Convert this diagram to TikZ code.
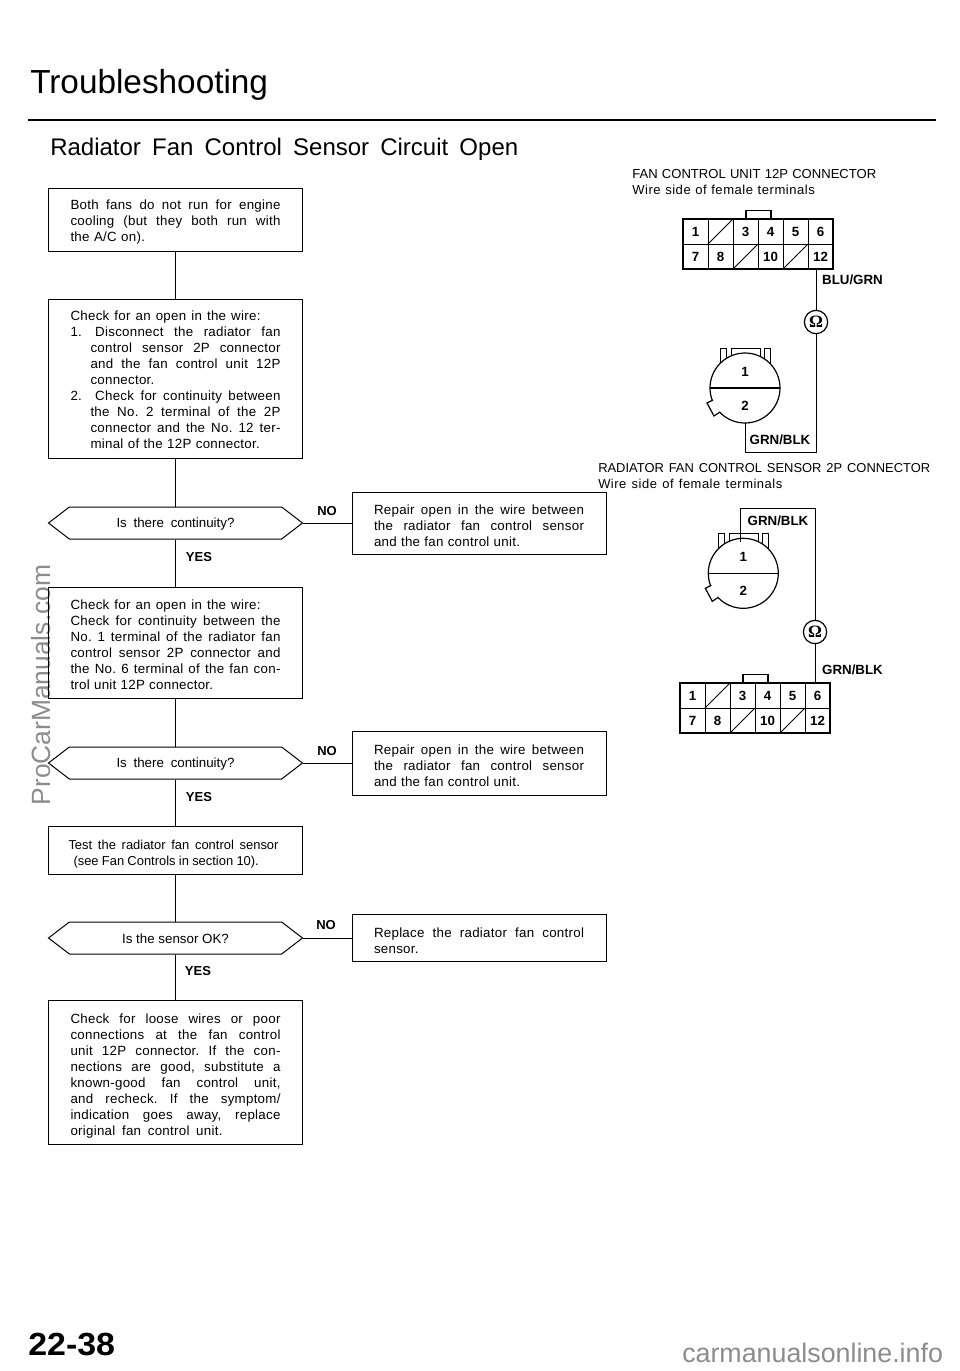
\documentclass[tikz,border=0pt]{standalone}
\usepackage{fontspec}
\setmainfont{Liberation Sans}
\newfontfamily\ohmfont{Liberation Serif}
\newfontfamily\trackedfont[LetterSpace=2]{Liberation Sans}
\newfontfamily\widefont[LetterSpace=4]{Liberation Sans}
\usetikzlibrary{shapes.symbols}
\definecolor{markgray}{gray}{0.55}
\newcommand{\fitline}[2][157.5pt]{\makebox[#1][s]{\spaceskip=0pt\xspaceskip=0pt\frenchspacing #2}}
\newcommand{\indentline}[2][142.5pt]{\hspace*{15pt}\fitline[#1]{#2}}
\tikzset{
  stepbox/.style={draw,line width=0.75pt,inner xsep=16.5pt,inner ysep=0pt,text width=157.5pt,align=left,
    text height=11pt,font=\trackedfont\fontsize{10}{12}\selectfont},
  decisionbox/.style={draw,line width=0.75pt,signal,signal to=west and east,signal pointer angle=75,
    minimum width=190.5pt,minimum height=24pt,inner sep=0pt,text height=8.5pt,font=\fontsize{10}{12}\selectfont},
  answer/.style={font=\fontsize{9.75}{12}\selectfont\bfseries,inner sep=0pt},
  heading/.style={anchor=base west,inner sep=0pt},
  caption/.style={anchor=west,inner sep=0pt,align=left,font=\fontsize{9.8}{12}\selectfont},
  wirename/.style={font=\fontsize{10}{12}\selectfont\bfseries,inner sep=0pt},
  pinname/.style={font=\fontsize{10}{12}\selectfont\bfseries,inner sep=0pt},
  ohmmeter/.style={draw,circle,line width=0.9pt,minimum size=17.5pt,inner sep=0pt,fill=white,
    font=\ohmfont\bfseries\fontsize{13}{14}\selectfont},
  wire/.style={line width=0.75pt},
  watermark/.style={text=markgray,inner sep=0pt,font=\fontsize{19.8}{24}\selectfont}
}
% 12P connector: left, top
\newcommand{\twelveconn}[2]{
  \begin{scope}[shift={(#1,#2)}]
    \draw[line width=0.9pt] (63,0) -- (63,-8.5) -- (88,-8.5) -- (88,0);
    \foreach \x in {25,50,75,100,125}
    \draw[line width=0.6pt] (\x,0) -- (\x,50);
    \draw[line width=0.6pt] (0,25) -- (150,25);
    \draw[line width=0.6pt] (25,25) -- (50,0);
    \draw[line width=0.6pt] (50,50) -- (75,25);
    \draw[line width=0.6pt] (100,50) -- (125,25);
    \draw[line width=1.4pt] (0,0) rectangle (150,50);
    \foreach \c/\r/\t in {0/0/1,2/0/3,3/0/4,4/0/5,5/0/6,0/1/7,1/1/8,3/1/10,5/1/12}
    \node[pinname] at ({\c*25+12.5},{\r*25+12.5}) {\t};
  \end{scope}
}
% 2P connector: centre
\newcommand{\twoconn}[2]{
  \begin{scope}[shift={(#1,#2)}]
    \draw[line width=0.7pt] (-25,-24) -- (-25,-40) -- (-19,-40) -- (-19,-24);
    \draw[line width=0.7pt] (19,-24) -- (19,-40) -- (25,-40) -- (25,-24);
    \draw[line width=0.7pt] (-14,-30) -- (-14,-40) -- (15,-40) -- (15,-30);
    \draw[line width=0.9pt,fill=white] (0,0) circle (35);
    \draw[line width=0.9pt] (-35,0) -- (35,0);
    \fill[white] (-32,12) -- (-38,15) -- (-31,28) -- (-25,24) -- cycle;
    \draw[line width=0.9pt] (-32,12) -- (-38,15) -- (-31,28) -- (-25,24);
    \node[pinname] at (0,-16) {1};
    \node[pinname] at (0,18) {2};
  \end{scope}
}
\begin{document}
\begin{tikzpicture}[x=0.75pt,y=-0.75pt]
\useasboundingbox (0,0) rectangle (960,1371);
\fill[white] (0,0) rectangle (960,1371);
% marks on the page
\node[watermark,rotate=90] (sitemark) at (41,685) {ProCarManuals.com};
\node[watermark,anchor=base west,font=\fontsize{20.1}{24}\selectfont] (onlinemark) at (682,1362) {carmanualsonline.info};
% headings
\node[heading,font=\fontsize{25}{30}\selectfont] (pagetitle) at (30,93) {\fitline[179.5pt]{Troubleshooting}};
\draw[line width=1.6pt] (28,120) -- (936,120);
\node[heading,font=\fontsize{18}{22}\selectfont] (circuittitle) at (50,155) {\fitline[351pt]{Radiator Fan Control Sensor Circuit Open}};
\node[heading,xscale=1.06,font=\fontsize{24}{30}\selectfont\bfseries] (pagenumber) at (28,1355) {22-38};
% flow chart
\node[stepbox,minimum height=47.25pt] (symptom) at (175.5,219.5) {
  \fitline{Both fans do not run for engine}\\
  \fitline{cooling (but they both run with}\\
  the A/C on).};
\node[stepbox,text height=8.5pt,minimum height=119.25pt] (checkA) at (175.5,378.5) {
  \fitline[142.5pt]{Check for an open in the wire:}\\
  \fitline{1.\hspace*{10pt}Disconnect the radiator fan}\\
  \indentline{control sensor 2P connector}\\
  \indentline{and the fan control unit 12P}\\
  \hspace*{15pt}connector.\\
  \fitline{2.\hspace*{10pt}Check for continuity between}\\
  \indentline{the No. 2 terminal of the 2P}\\
  \indentline{connector and the No. 12 ter-}\\
  \indentline[127pt]{minal of the 12P connector.}};
\node[decisionbox] (askA) at (175.5,523) {\fitline[88.5pt]{Is there continuity?}};
\node[stepbox,minimum height=83.25pt] (checkB) at (175.5,642.5) {
  \fitline[142.5pt]{Check for an open in the wire:}\\
  \fitline{Check for continuity between the}\\
  \fitline{No. 1 terminal of the radiator fan}\\
  \fitline{control sensor 2P connector and}\\
  \fitline{the No. 6 terminal of the fan con-}\\
  \fitline[107pt]{trol unit 12P connector.}};
\node[decisionbox] (askB) at (175.5,763) {\fitline[88.5pt]{Is there continuity?}};
\node[stepbox,text height=12.5pt,font=\fontsize{9.7}{12}\selectfont,minimum height=36pt] (testsensor) at (175.5,850) {
  \hspace*{-1.5pt}\fitline{Test the radiator fan control sensor}\\
  \hspace*{2.25pt}\fitline[139pt]{(see Fan Controls in section 10).}};
\node[decisionbox] (askC) at (175.5,938) {Is the sensor OK?};
\node[stepbox,text height=13pt,minimum height=108pt] (looseend) at (175.5,1072) {
  \fitline{Check for loose wires or poor}\\
  \fitline{connections at the fan control}\\
  \fitline{unit 12P connector. If the con-}\\
  \fitline{nections are good, substitute a}\\
  \fitline{known-good fan control unit,}\\
  \fitline{and recheck. If the symptom/}\\
  \fitline{indication goes away, replace}\\
  \fitline[114pt]{original fan control unit.}};
\node[stepbox,minimum height=46.5pt] (repairA) at (479,523) {
  \fitline{Repair open in the wire between}\\
  \fitline{the radiator fan control sensor}\\
  \fitline[109.5pt]{and the fan control unit.}};
\node[stepbox,minimum height=48pt] (repairB) at (479,763) {
  \fitline{Repair open in the wire between}\\
  \fitline{the radiator fan control sensor}\\
  \fitline[109.5pt]{and the fan control unit.}};
\node[stepbox,minimum height=35.25pt] (replacesensor) at (479,938) {
  \fitline{Replace the radiator fan control}\\
  sensor.};
\foreach \a/\b in {symptom/checkA,checkA/askA,askA/checkB,checkB/askB,askB/testsensor,testsensor/askC,askC/looseend}
\draw[line width=0.75pt] (\a.south) -- (\b.north);
\foreach \a/\b in {askA/repairA,askB/repairB,askC/replacesensor}
\draw[line width=0.75pt] (\a.east) -- (\b.west);
\node[answer] (yesA) at (199,557) {YES};
\node[answer] (noA) at (327,511) {NO};
\node[answer] (yesB) at (199,797) {YES};
\node[answer] (noB) at (327,751) {NO};
\node[answer] (yesC) at (198,971) {YES};
\node[answer] (noC) at (326,925) {NO};
% test on the 12P and 2P connectors, first pair
\node[caption] (unitcaption) at (632,182) {\fitline[183pt]{FAN CONTROL UNIT 12P CONNECTOR}\\\fitline[137pt]{\widefont Wire side of female terminals}};
\twelveconn{683}{219}
\twoconn{745}{388}
\coordinate (unitpin) at (816,269);
\coordinate (sensorpin) at (745,423);
\coordinate (cornerA) at (745,452);
\node[ohmmeter] (ohmA) at (816,322) {Ω};
\draw[wire] (unitpin) -- (ohmA);
\draw[wire] (ohmA) |- (cornerA) -- (sensorpin);
\node[wirename] (nameA) at (852.5,280) {BLU/GRN};
\node[wirename] (nameB) at (780,440) {GRN/BLK};
% second pair
\node[caption,font=\fontsize{9.7}{12}\selectfont] (sensorcaption) at (598,476) {\fitline[249pt]{RADIATOR FAN CONTROL SENSOR 2P CONNECTOR}\\\fitline[138pt]{\widefont Wire side of female terminals}};
\twoconn{743.3}{573.3}
\twelveconn{680}{683}
\coordinate (unitpinB) at (815,683);
\coordinate (sensorpinB) at (740,542);
\coordinate (cornerB) at (740,508);
\node[ohmmeter] (ohmB) at (815,632) {Ω};
\draw[wire] (unitpinB) -- (ohmB);
\draw[wire] (ohmB) |- (cornerB) -- (sensorpinB);
\node[wirename] (nameC) at (778,521) {GRN/BLK};
\node[wirename] (nameD) at (852.5,670) {GRN/BLK};
\end{tikzpicture}
\end{document}
